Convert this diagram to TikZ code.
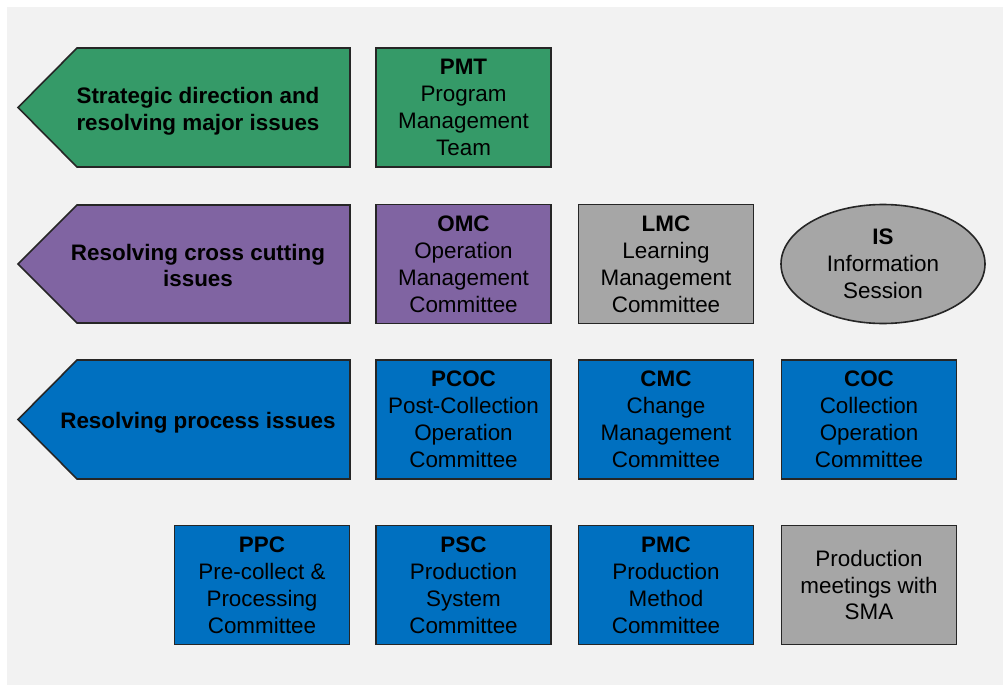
\documentclass[tikz,border=0pt]{standalone}
\usepackage{fontspec}
\setmainfont{Liberation Sans}
\usetikzlibrary{shapes.geometric}
\definecolor{bggray}{HTML}{F2F2F2}
\definecolor{pmtgreen}{HTML}{359A68}
\definecolor{omcpurple}{HTML}{8064A2}
\definecolor{boxgray}{HTML}{A6A6A6}
\definecolor{procblue}{HTML}{0070C0}
\definecolor{edge}{HTML}{262626}
\tikzset{
  commbox/.style={draw=edge, line width=1.6bp, minimum width=175bp, minimum height=119bp,
    inner sep=0pt, align=center, font=\fontsize{22.5}{27}\selectfont},
  levelarrow/.style={draw=edge, line width=1.6bp},
  leveltext/.style={align=center, font=\bfseries\fontsize{22.5}{27}\selectfont}
}
\begin{document}
\begin{tikzpicture}[x=1bp,y=-1bp]
\useasboundingbox (0,0) rectangle (1003,685);
\fill[white] (0,0) rectangle (1003,685);
\fill[bggray] (7,7) rectangle (1003,685);
%%
\draw[levelarrow, fill=pmtgreen] (350,48) -- (77,48) -- (18,107.5) -- (77,167) -- (350,167) -- cycle;
\draw[levelarrow, fill=omcpurple] (350,205) -- (77,205) -- (18,264) -- (77,323) -- (350,323) -- cycle;
\draw[levelarrow, fill=procblue] (350,360) -- (77,360) -- (18,419.5) -- (77,479) -- (350,479) -- cycle;
\node[leveltext] (strategic) at (198,111) {Strategic direction and\\resolving major issues};
\node[leveltext] (crosscut) at (198,265.5) {Resolving cross cutting\\issues};
\node[leveltext] (process) at (198,423) {Resolving process issues};
%%
\node[commbox, fill=pmtgreen] (pmt) at (463.5,107.5) {\textbf{PMT}\\Program\\Management\\Team};
%%
\node[commbox, fill=omcpurple] (omc) at (463.5,264) {\textbf{OMC}\\Operation\\Management\\Committee};
\node[commbox, fill=boxgray] (lmc) at (666,264) {\textbf{LMC}\\Learning\\Management\\Committee};
\node[draw=edge, line width=1.6bp, fill=boxgray, ellipse, minimum width=204bp, minimum height=119bp,
  inner sep=0pt, align=center, font=\fontsize{22.5}{27}\selectfont] (is) at (883,264) {\textbf{IS}\\Information\\Session};
%%
\node[commbox, fill=procblue] (pcoc) at (463.5,419.5) {\textbf{PCOC}\\Post-Collection\\Operation\\Committee};
\node[commbox, fill=procblue] (cmc) at (666,419.5) {\textbf{CMC}\\Change\\Management\\Committee};
\node[commbox, fill=procblue] (coc) at (869,419.5) {\textbf{COC}\\Collection\\Operation\\Committee};
%%
\node[commbox, fill=procblue] (ppc) at (262,585) {\textbf{PPC}\\Pre-collect \&\\Processing\\Committee};
\node[commbox, fill=procblue] (psc) at (463.5,585) {\textbf{PSC}\\Production\\System\\Committee};
\node[commbox, fill=procblue] (pmc) at (666,585) {\textbf{PMC}\\Production\\Method\\Committee};
\node[commbox, fill=boxgray] (sma) at (869,585) {Production\\meetings with\\SMA};
\end{tikzpicture}
\end{document}
